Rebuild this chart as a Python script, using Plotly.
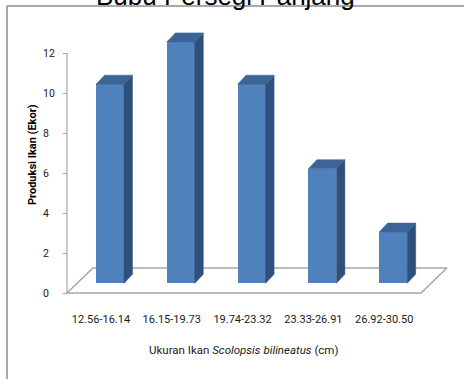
import plotly.graph_objects as go

# ---------------- data ----------------
categories = ["12.56-16.14", "16.15-19.73", "19.74-23.32", "23.33-26.91", "26.92-30.50"]
values = [10, 12, 10, 6, 3]
y_ticks = [0, 2, 4, 6, 8, 10, 12]

title_text = "Bubu Persegi Panjang"
x_title = "Ukuran Ikan <i>Scolopsis</i> <i>bilineatus</i> (cm)"
y_title = "<b>Produksi Ikan (Ekor)</b>"

# ---------------- layout geometry ----------------
W, H = 464, 379
ML, MR, MT, MB = 64, 9, 29, 80
PW, PH = W - ML - MR, H - MT - MB

XR = [-0.522, 5.0]          # category axis (front plane)
YR = [-0.3, 13.2]           # value axis (front plane)
X2R = [-0.650, 4.873]       # bar plane (shifted in depth)
Y2R = [-0.17, 12.61]

BAR_W = 0.395
DX, DY = 0.12, 0.426        # bar depth offsets (bar-plane units)
FLOOR = 0.57                # floor level in bar-plane units
FDX, FDY = 0.367, 1.25      # floor depth offsets (front-plane units)

C_FRONT = "#4F81BD"
C_TOP = "#3C6496"
C_SIDE = "#2F507D"
C_GRID = "#A6A6A6"
C_TEXT = "#1A1A1A"


def px2paper_x(px):
    return (px - ML) / PW


def px2paper_y(py):
    return (H - MB - py) / PH


n = len(categories)
idx = list(range(n))

fig = go.Figure()

# floor outline (front plane axes)
fx0, fx1 = -0.48, n - 1 + 0.52
fig.add_trace(go.Scatter(
    x=[fx0, fx1, fx1 + FDX, fx0 + FDX, fx0],
    y=[0, 0, FDY, FDY, 0],
    mode="lines", line=dict(color=C_GRID, width=1.5),
    hoverinfo="skip", showlegend=False))

# value axis line
fig.add_trace(go.Scatter(
    x=[fx0, fx0], y=[y_ticks[0], y_ticks[-1]],
    mode="lines", line=dict(color=C_GRID, width=1.2),
    hoverinfo="skip", showlegend=False))

# side faces and top faces of the 3D bars (bar plane axes)
side_x, side_y, top_x, top_y = [], [], [], []
for i, v in zip(idx, values):
    l, r = i - BAR_W / 2, i + BAR_W / 2
    side_x += [r, r, r + DX, r + DX, r, None]
    side_y += [FLOOR, v, v + DY, FLOOR + DY, FLOOR, None]
    top_x += [l, r, r + DX, l + DX, l, None]
    top_y += [v, v, v + DY, v + DY, v, None]

fig.add_trace(go.Scatter(
    x=side_x, y=side_y, xaxis="x2", yaxis="y2", mode="lines",
    fill="toself", fillcolor=C_SIDE, line=dict(color=C_SIDE, width=0.5),
    hoverinfo="skip", showlegend=False))
fig.add_trace(go.Scatter(
    x=top_x, y=top_y, xaxis="x2", yaxis="y2", mode="lines",
    fill="toself", fillcolor=C_TOP, line=dict(color=C_TOP, width=0.5),
    hoverinfo="skip", showlegend=False))

# front faces
fig.add_trace(go.Bar(
    x=idx, y=[v - FLOOR for v in values], base=FLOOR,
    customdata=values, hovertemplate="%{customdata}<extra></extra>",
    width=BAR_W, xaxis="x2", yaxis="y2",
    marker=dict(color=C_FRONT, line=dict(width=0)), showlegend=False))

fig.update_layout(
    width=W, height=H,
    margin=dict(l=ML, r=MR, t=MT, b=MB, autoexpand=False),
    paper_bgcolor="white", plot_bgcolor="white",
    font=dict(family="Roboto", color=C_TEXT),
    xaxis=dict(range=XR, tickvals=idx, ticktext=categories, showgrid=False,
               zeroline=False, showline=False, ticks="",
               tickfont=dict(family="Roboto", size=11, color=C_TEXT),
               ticklabelstandoff=12, fixedrange=True),
    yaxis=dict(range=YR, tickvals=y_ticks,
               ticktext=[str(t) + "\u2007" * (2 - len(str(t))) for t in y_ticks],
               showgrid=False, zeroline=False, showline=False,
               ticks="outside", ticklen=4, tickcolor=C_GRID, tickwidth=1,
               tickfont=dict(family="Roboto", size=10.5, color=C_TEXT),
               ticklabelstandoff=6, anchor="free", position=px2paper_x(67),
               fixedrange=True),
    xaxis2=dict(range=X2R, overlaying="x", visible=False, fixedrange=True),
    yaxis2=dict(range=Y2R, overlaying="y", visible=False, fixedrange=True),
    bargap=0,
    showlegend=False,
)

# frame lines of the original image
fig.add_shape(type="line", xref="paper", yref="paper",
              x0=px2paper_x(7), x1=px2paper_x(W + 2),
              y0=px2paper_y(6), y1=px2paper_y(6),
              line=dict(color="#8C8C8C", width=1.5), layer="below")
fig.add_shape(type="line", xref="paper", yref="paper",
              x0=px2paper_x(7), x1=px2paper_x(7),
              y0=px2paper_y(6), y1=px2paper_y(H + 2),
              line=dict(color="#8C8C8C", width=1.5), layer="below")

# title (cropped at the top as in the picture)
fig.add_annotation(text=title_text, xref="paper", yref="paper",
                   x=px2paper_x(225.5), y=px2paper_y(-4),
                   xanchor="center", yanchor="middle", showarrow=False,
                   font=dict(family="Liberation Sans", size=26, color="#000000"))

# axis titles
fig.add_annotation(text=x_title, xref="paper", yref="paper",
                   x=px2paper_x(243), y=px2paper_y(350),
                   xanchor="center", yanchor="middle", showarrow=False,
                   font=dict(family="Roboto", size=11.5, color=C_TEXT))
fig.add_annotation(text=y_title, xref="paper", yref="paper",
                   x=px2paper_x(32), y=px2paper_y(155),
                   xanchor="center", yanchor="middle", showarrow=False,
                   textangle=-90,
                   font=dict(family="Roboto", size=11, color="#000000"))

fig.write_html("out.html",
               config={"displayModeBar": False},
               post_script="document.body.style.margin='0';"
                           "document.body.style.overflow='hidden';")
